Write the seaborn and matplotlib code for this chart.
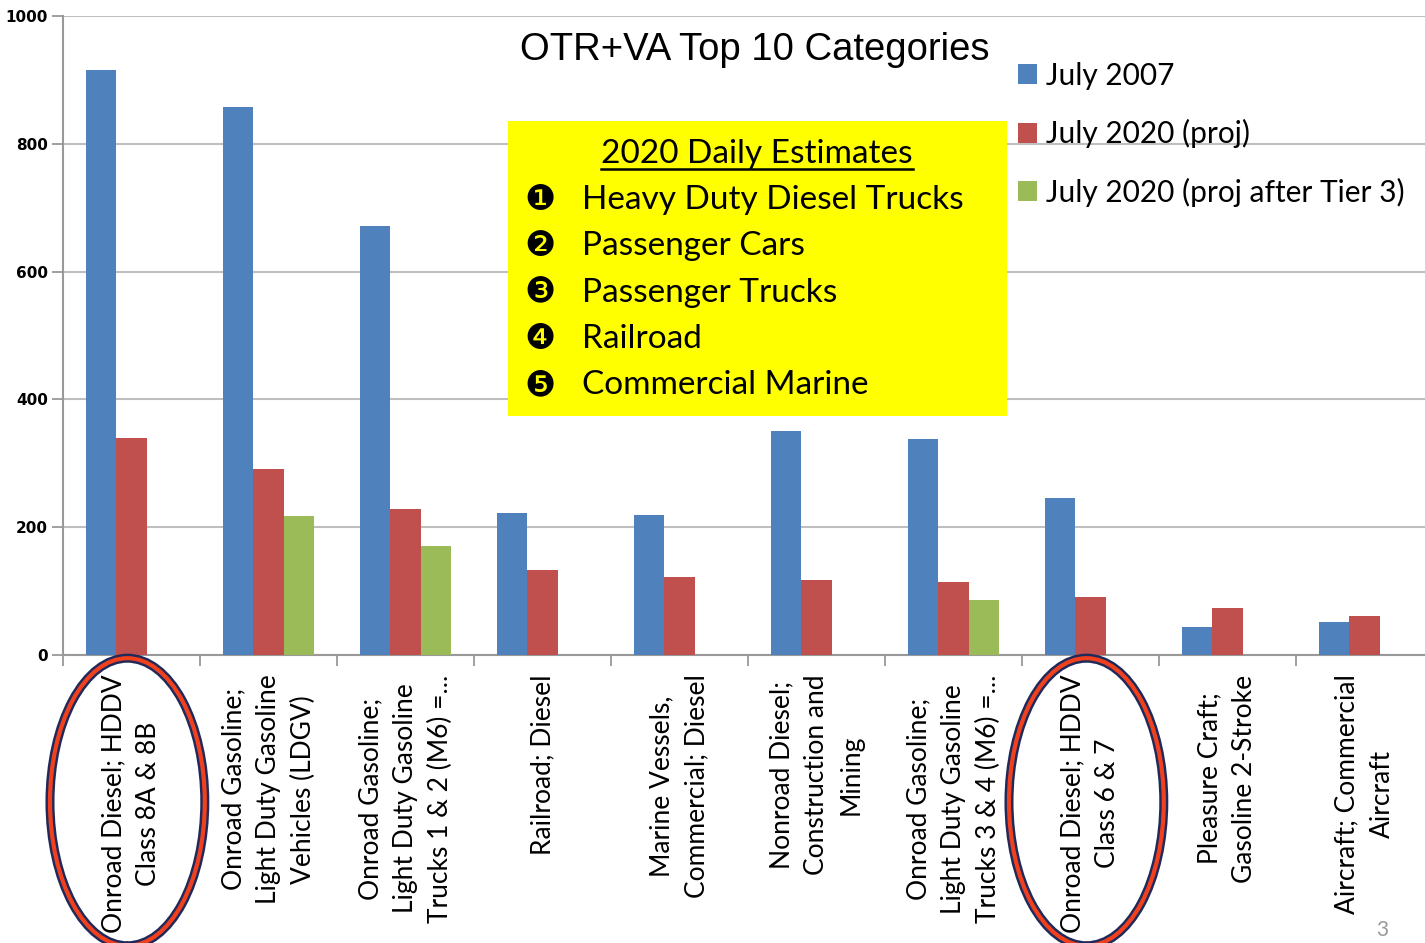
import numpy as np
import pandas as pd
import seaborn as sns
import matplotlib.pyplot as plt
from matplotlib.patches import Ellipse, Rectangle
from matplotlib.lines import Line2D
from matplotlib.transforms import blended_transform_factory

categories = [
    "Onroad Diesel; HDDV\nClass 8A & 8B",
    "Onroad Gasoline;\nLight Duty Gasoline\nVehicles (LDGV)",
    "Onroad Gasoline;\nLight Duty Gasoline\nTrucks 1 & 2 (M6) =...",
    "Railroad; Diesel",
    "Marine Vessels,\nCommercial; Diesel",
    "Nonroad Diesel;\nConstruction and\nMining",
    "Onroad Gasoline;\nLight Duty Gasoline\nTrucks 3 & 4 (M6) =...",
    "Onroad Diesel; HDDV\nClass 6 & 7",
    "Pleasure Craft;\nGasoline 2-Stroke",
    "Aircraft; Commercial\nAircraft",
]
series = ["July 2007", "July 2020 (proj)", "July 2020 (proj after Tier 3)"]
july_2007 = [916, 858, 672, 222, 219, 350, 338, 245, 44, 52]
july_2020 = [339, 291, 228, 133, 122, 117, 114, 91, 73, 61]
july_2020_tier3 = [np.nan, 217, 170, np.nan, np.nan, np.nan, 86, np.nan, np.nan, np.nan]
colors = ["#4f81bd", "#c0504d", "#9bbb59"]

estimates_title = "2020 Daily Estimates"
bullets = ["\u2776", "\u2777", "\u2778", "\u2779", "\u277a"]
estimates = ["Heavy Duty Diesel Trucks", "Passenger Cars", "Passenger Trucks",
             "Railroad", "Commercial Marine"]
circled = [0, 7]

df = pd.DataFrame({
    "category": categories * 3,
    "series": np.repeat(series, len(categories)),
    "value": july_2007 + july_2020 + july_2020_tier3,
})

W, H = 1425, 943
fig = plt.figure(figsize=(W / 100, H / 100), dpi=100)
ax = fig.add_axes([63 / W, 1 - 655 / H, 1370 / W, 639 / H])

sns.barplot(data=df, x="category", y="value", hue="series", hue_order=series,
            palette=colors, saturation=1, width=0.667, gap=0, ax=ax, zorder=3)

ax.set_ylim(0, 1000)
ax.set_xlim(-0.5, len(categories) - 0.5)
ax.set_yticks(range(0, 1001, 200))
ax.set_xlabel("")
ax.set_ylabel("")
ax.grid(axis="y", color="#bfbfbf", lw=1.5, zorder=0)
ax.set_axisbelow(True)
for s in ["top", "right"]:
    ax.spines[s].set_visible(False)
for s in ["left", "bottom"]:
    ax.spines[s].set_color("#999999")
    ax.spines[s].set_linewidth(1.5)

ax.tick_params(axis="y", length=8, width=1.3, color="#999999", pad=3)
for lab in ax.get_yticklabels():
    lab.set_fontfamily("DejaVu Sans")
    lab.set_fontweight("bold")
    lab.set_fontsize(11)

ax.set_xticks(np.arange(-0.5, len(categories), 1.0), minor=True)
ax.tick_params(axis="x", which="minor", length=8, width=1.3, color="#999999")
ax.tick_params(axis="x", which="major", length=0, pad=14)
ax.set_xticklabels(categories, rotation=90, ha="center", va="top",
                   fontfamily="Lato", fontsize=19, linespacing=1.5)
for lab in ax.get_xticklabels():
    lab.set_multialignment("center")

# circles around heavy duty diesel categories
tr = blended_transform_factory(ax.transData, ax.transAxes)
for i in circled:
    for ec, lw in [("#1f2a5a", 6.5), ("#f0401e", 3)]:
        ax.add_patch(Ellipse((i - 0.03, -0.23), 1.13, 0.45, transform=tr,
                             fill=False, ec=ec, lw=lw, clip_on=False, zorder=5))

ax.legend(loc="upper left", bbox_to_anchor=(1006 / W, 1 - 50 / H),
          bbox_transform=fig.transFigure, frameon=False,
          prop={"family": "Lato", "size": 21.5}, handlelength=0.65,
          handleheight=0.65, handletextpad=0.3, labelspacing=0.98,
          borderaxespad=0)

fig.text(755 / W, 1 - 50 / H, "OTR+VA Top 10 Categories", ha="center",
         va="center", fontsize=27.5, fontfamily="Liberation Sans")

# yellow note box
ax.add_patch(Rectangle((508 / W, 1 - 416 / H), 499 / W, 295 / H,
                       transform=fig.transFigure, fc="#ffff00", ec="none",
                       clip_on=False, zorder=6))
t = fig.text(757 / W, 1 - 154 / H, estimates_title, ha="center", va="center",
             fontsize=24, fontfamily="Lato", zorder=7)
for k, (b, e) in enumerate(zip(bullets, estimates)):
    y = 1 - (200 + 46.3 * k) / H
    fig.text(540 / W, y, b, ha="center", va="center", fontsize=25,
             fontfamily="DejaVu Sans", zorder=7)
    fig.text(582 / W, y, e, ha="left", va="center", fontsize=24,
             fontfamily="Lato", zorder=7)

fig.canvas.draw()
bb = t.get_window_extent().transformed(fig.transFigure.inverted())
fig.add_artist(Line2D([bb.x0, bb.x1], [1 - 169 / H] * 2,
                      transform=fig.transFigure, color="black", lw=1.8,
                      zorder=7))

fig.text(1382 / W, 1 - 930 / H, "3", ha="center", va="center", fontsize=15,
         color="#999999", fontfamily="Lato")

fig.savefig("out.png", dpi=100)
